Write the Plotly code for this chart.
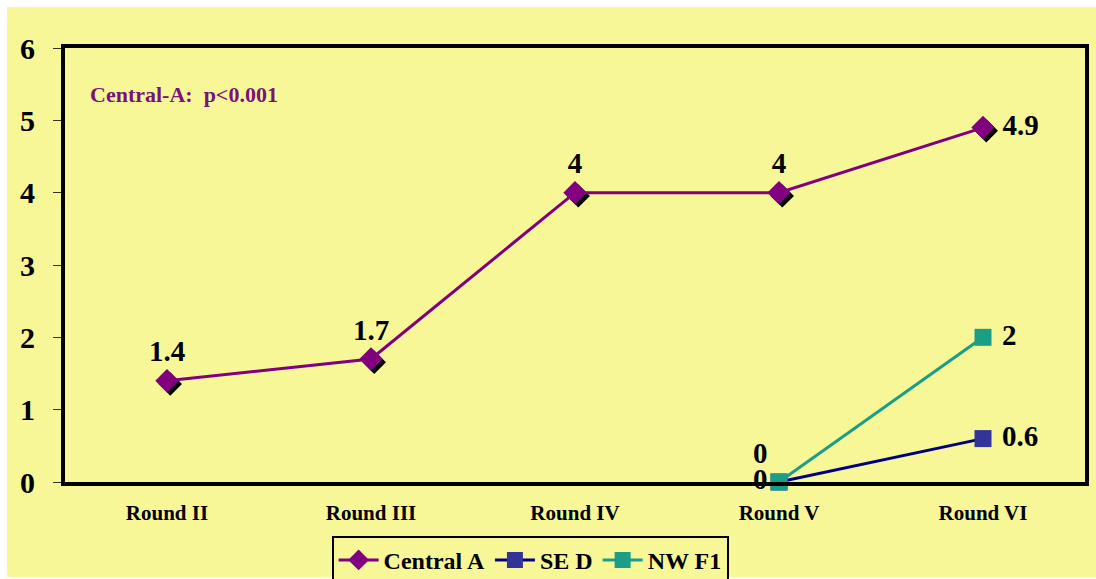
import plotly.graph_objects as go

# Survey rounds and the three series
rounds = ["Round II", "Round III", "Round IV", "Round V", "Round VI"]
central_a = [1.4, 1.7, 4, 4, 4.9]
se_d = [None, None, None, 0, 0.6]
nw_f1 = [None, None, None, 0, 2]
y_ticks = [0, 1, 2, 3, 4, 5, 6]

SERIF = "Times New Roman, Liberation Serif, serif"
YELLOW = "#F7F798"
PURPLE = "#800080"
NAVY = "#000080"
NAVY_MK = "#333399"
TEAL = "#1A9E88"

xpos = list(range(len(rounds)))
label_font = dict(family=SERIF, size=29, color="black", weight="bold")

fig = go.Figure()

# drop shadow under the Central A diamonds
fig.add_trace(go.Scatter(
    x=[x + 0.016 for x in xpos], y=[v - 0.045 for v in central_a],
    mode="markers", showlegend=False, hoverinfo="skip", cliponaxis=False,
    marker=dict(symbol="diamond", size=18, color="black"),
))

fig.add_trace(go.Scatter(
    x=xpos, y=central_a, name="Central A", mode="lines+markers+text",
    line=dict(color=PURPLE, width=3), cliponaxis=False,
    marker=dict(symbol="diamond", size=18, color=PURPLE),
    texttemplate=["%{y}"] * 4 + [" %{y}"],
    textposition=["top center"] * 4 + ["middle right"],
    textfont=label_font,
))

fig.add_trace(go.Scatter(
    x=xpos, y=se_d, name="SE D", mode="lines+markers+text",
    line=dict(color=NAVY, width=3), cliponaxis=False,
    marker=dict(symbol="square", size=17, color=NAVY_MK),
    texttemplate=["%{y}"] * 4 + [" %{y}"],
    textposition=["top left"] * 4 + ["middle right"],
    textfont=label_font,
))

fig.add_trace(go.Scatter(
    x=xpos, y=nw_f1, name="NW F1", mode="lines+markers+text",
    line=dict(color=TEAL, width=3), cliponaxis=False,
    marker=dict(symbol="square", size=17, color=TEAL),
    texttemplate=["%{y}"] * 4 + [" %{y}"],
    textposition=["middle left"] * 4 + ["middle right"],
    textfont=label_font,
))

fig.update_layout(
    width=1096, height=579,
    margin=dict(l=65, r=11, t=48, b=97, autoexpand=False),
    paper_bgcolor="white",
    plot_bgcolor=YELLOW,
    font=dict(family=SERIF, color="black"),
    showlegend=True,
    legend=dict(
        orientation="h", x=0.456, xanchor="center", y=-0.124, yanchor="top",
        bgcolor=YELLOW, bordercolor="black", borderwidth=2,
        font=dict(family=SERIF, size=24, color="black", weight="bold"),
        itemwidth=40, tracegroupgap=0,
    ),
    xaxis=dict(
        range=[-0.5, 4.5], tickvals=xpos, ticktext=rounds,
        showgrid=False, zeroline=False, ticks="",
        showline=True, linecolor="black", linewidth=4, mirror=True,
        tickfont=dict(family=SERIF, size=21, color="black", weight="bold"),
        ticklabelstandoff=9,
    ),
    yaxis=dict(
        range=[0, 6], tickvals=y_ticks,
        showgrid=False, zeroline=False,
        ticks="outside", ticklen=8, tickwidth=1, tickcolor="#333333",
        showline=True, linecolor="black", linewidth=4, mirror=True,
        tickfont=dict(family=SERIF, size=30, color="black", weight="bold"),
        ticklabelstandoff=12,
    ),
    shapes=[dict(
        type="rect", xref="paper", yref="paper", layer="below",
        x0=-0.0569, x1=1.02, y0=-0.219, y1=1.0945,
        fillcolor=YELLOW, line=dict(width=0),
    )],
    annotations=[dict(
        text="Central-A:&nbsp;&nbsp;p&lt;0.001", xref="paper", yref="paper",
        x=0.023, y=0.892, xanchor="left", yanchor="middle", showarrow=False,
        font=dict(family=SERIF, size=22, color="#7A127A", weight="bold"),
    )],
)

fig.write_html("out.html")
